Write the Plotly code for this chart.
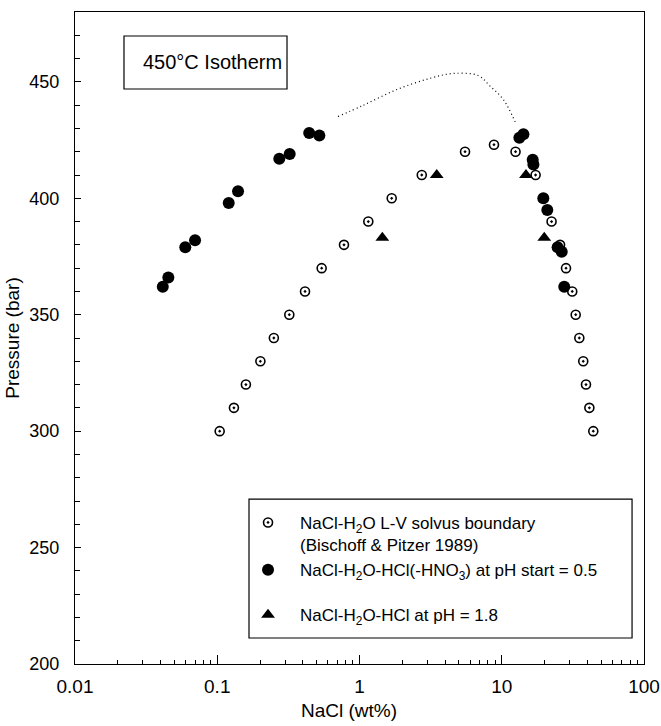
import plotly.graph_objects as go

# Bischoff & Pitzer (1989) NaCl-H2O L-V solvus boundary at 450 C
solvus_x = [0.104, 0.131, 0.159, 0.201, 0.250, 0.321, 0.414, 0.542, 0.778, 1.153, 1.684, 2.74, 5.52, 8.82,
            12.5, 17.3, 19.7, 22.4, 25.7, 28.3, 31.3, 33.1, 35.1, 37.4, 39.1, 41.3, 44.0]
solvus_p = [300, 310, 320, 330, 340, 350, 360, 370, 380, 390, 400, 410, 420, 423,
            420, 410, 400, 390, 380, 370, 360, 350, 340, 330, 320, 310, 300]

# NaCl-H2O-HCl(-HNO3) at pH start = 0.5
ph05_x = [0.0414, 0.0453, 0.0596, 0.0698, 0.1204, 0.140, 0.273, 0.323, 0.443, 0.522,
          13.3, 14.2, 16.5, 16.7, 19.6, 20.9, 24.7, 26.4, 27.5]
ph05_p = [362, 366, 379, 382, 398, 403, 417, 419, 428, 427,
          426, 427.5, 416.5, 414.5, 400, 395, 379, 377, 362]

# NaCl-H2O-HCl at pH = 1.8
ph18_x = [1.447, 3.49, 14.8, 19.9]
ph18_p = [383, 410, 410, 383]

# dotted curve
curve_x = [0.706, 1.06, 1.83, 3.13, 4.57, 6.84, 8.27, 10.26, 12.5]
curve_p = [435.1, 439.9, 446.7, 451.5, 453.6, 452.7, 448.2, 442.4, 432.5]

x_tickvals = [0.01, 0.1, 1, 10, 100]
x_ticktext = ["0.01", "0.1", "1", "10", "100"]
y_tickvals = [200, 250, 300, 350, 400, 450]

FONT = "Liberation Sans, Arial, Helvetica, sans-serif"

fig = go.Figure()

fig.add_trace(go.Scatter(
    x=curve_x, y=curve_p, mode="lines", showlegend=False,
    line=dict(color="black", width=1.2, dash="1px,3px", shape="spline"),
))

fig.add_trace(go.Scatter(
    x=solvus_x, y=solvus_p, mode="markers",
    name="NaCl-H<sub>2</sub>O L-V solvus boundary<br>(Bischoff & Pitzer 1989)",
    legendgroup="g1",
    marker=dict(symbol="circle-open-dot", size=9, color="black", line=dict(color="black", width=1.6)),
))

fig.add_trace(go.Scatter(
    x=ph05_x, y=ph05_p, mode="markers",
    name="NaCl-H<sub>2</sub>O-HCl(-HNO<sub>3</sub>) at pH start = 0.5",
    legendgroup="g1",
    marker=dict(symbol="circle", size=12, color="black"),
))

fig.add_trace(go.Scatter(
    x=ph18_x, y=ph18_p, mode="markers",
    name="NaCl-H<sub>2</sub>O-HCl at pH = 1.8",
    legendgroup="g2",
    marker=dict(symbol="triangle-up", size=12, color="black"),
))

minor_x = [m * 10 ** e for e in (-2, -1, 0, 1) for m in range(2, 10)]

fig.update_xaxes(
    type="log", range=[-2, 2], automargin=False,
    tickmode="array", tickvals=x_tickvals, ticktext=x_ticktext,
    ticks="inside", ticklen=9, tickwidth=1.2, tickcolor="black",
    minor=dict(tickmode="array", tickvals=minor_x, ticks="inside", ticklen=4, tickwidth=1, tickcolor="black", showgrid=False),
    showline=True, linecolor="black", linewidth=1.3, mirror=True,
    showgrid=False, zeroline=False,
    tickfont=dict(family=FONT, size=19, color="black"),
    ticklabelstandoff=5,
)

fig.update_yaxes(
    range=[200, 480], automargin=False,
    tickmode="array", tickvals=y_tickvals,
    ticks="inside", ticklen=6, tickwidth=1.2, tickcolor="black",
    minor=dict(dtick=10, tick0=200, ticks="inside", ticklen=5, tickwidth=1, tickcolor="black", showgrid=False),
    showline=True, linecolor="black", linewidth=1.3, mirror=True,
    showgrid=False, zeroline=False,
    tickfont=dict(family=FONT, size=18, color="black"),
    ticklabelstandoff=11,
    title=dict(text="Pressure (bar)", font=dict(family=FONT, size=19, color="black"), standoff=4),
)

# x-axis title (slightly left of centre, as in the original)
fig.add_annotation(xref="paper", yref="paper", x=0.4815, y=-0.0715, xanchor="center", yanchor="middle",
                   text="NaCl (wt%)", showarrow=False, font=dict(family=FONT, size=19, color="black"))

# title box and legend box
fig.add_shape(type="rect", xref="paper", yref="paper", x0=0.0861, x1=0.3726, y0=0.8819, y1=0.9632,
              line=dict(color="black", width=1.2), fillcolor="white", layer="below")
fig.add_annotation(xref="paper", yref="paper", x=0.2408, y=0.923, xanchor="center", yanchor="middle",
                   text="450°C Isotherm", showarrow=False, font=dict(family=FONT, size=20, color="black"))
fig.add_shape(type="rect", xref="paper", yref="paper", x0=0.3058, x1=0.979, y0=0.0399, y1=0.253,
              line=dict(color="black", width=1.2), fillcolor="rgba(0,0,0,0)")

fig.update_layout(
    width=661, height=726,
    margin=dict(l=75, r=17, t=12, b=62),
    plot_bgcolor="white", paper_bgcolor="white",
    font=dict(family=FONT, color="black"),
    legend=dict(
        x=0.283, y=0.244, xanchor="left", yanchor="top",
        bgcolor="rgba(0,0,0,0)", borderwidth=0,
        font=dict(family=FONT, size=17, color="black"),
        traceorder="grouped", tracegroupgap=20,
        itemwidth=54, valign="top",
    ),
)

fig.write_html("out.html")
